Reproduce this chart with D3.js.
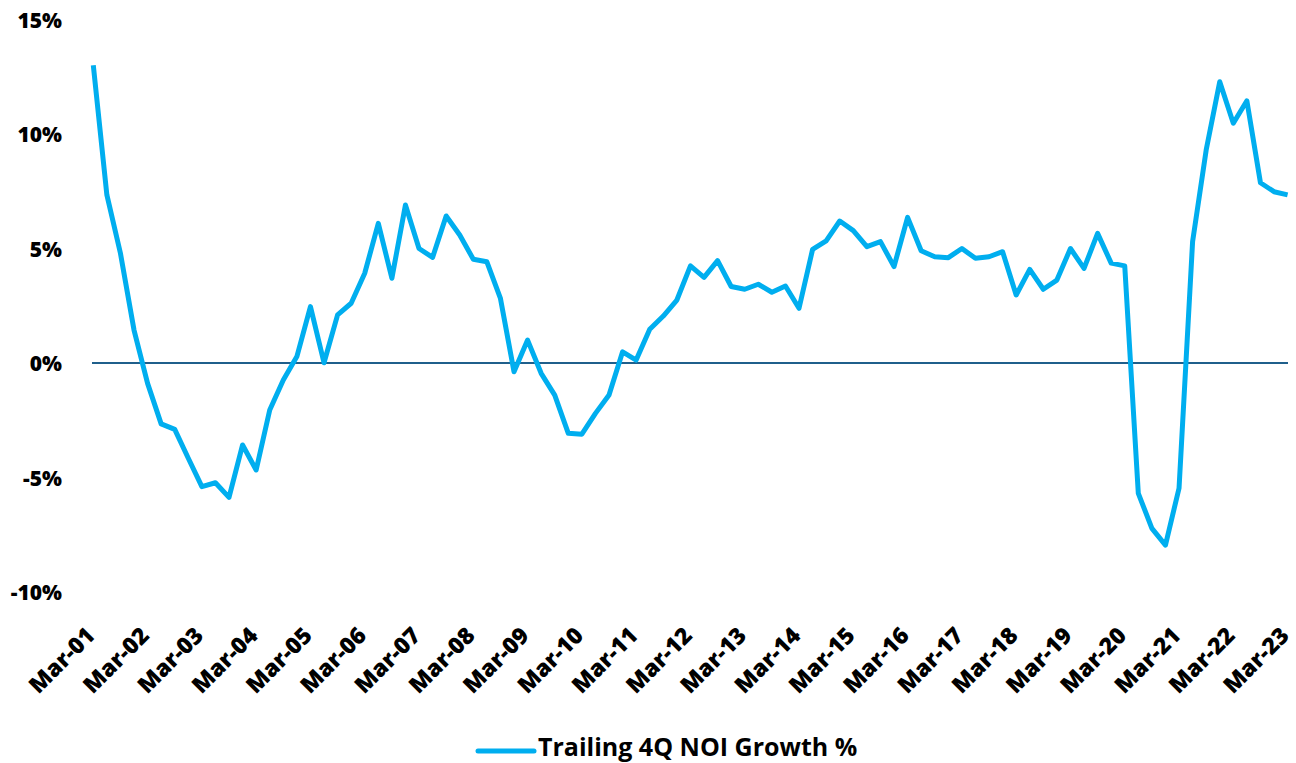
<!DOCTYPE html>
<html>
<head>
<meta charset="utf-8">
<script src="https://cdn.jsdelivr.net/npm/d3@7"></script>
<style>
  html, body { margin: 0; padding: 0; background: #ffffff; }
  svg { display: block; }
  text { font-family: "Open Sans", "Noto Sans", sans-serif; font-weight: 800; fill: #000; }
</style>
</head>
<body>
<svg id="chart" width="1296" height="763"></svg>
<script>
// ---- Data ----
const seriesName = "Trailing 4Q NOI Growth %";
const quarterMonths = ["Mar", "Jun", "Sep", "Dec"];
const startYear = 2001, endYear = 2023;
// Quarterly categories Mar-01 .. Mar-23
const categories = [];
for (let y = startYear; y <= endYear; y++) {
  for (const m of quarterMonths) {
    if (y === endYear && m !== "Mar") break;
    categories.push(m + "-" + String(y % 100).padStart(2, "0"));
  }
}
const noiGrowth = [
  13.0, 7.34, 4.79, 1.44, -0.89, -2.66, -2.90, -4.16, -5.40, -5.23, -5.87, -3.58, -4.67,
  -2.05, -0.74, 0.28, 2.46, 0.01, 2.10, 2.61, 3.92, 6.10, 3.70, 6.90, 5.00, 4.61,
  6.42, 5.59, 4.53, 4.42, 2.82, -0.38, 1.00, -0.45, -1.40, -3.07, -3.11, -2.20, -1.40,
  0.49, 0.13, 1.47, 2.05, 2.75, 4.24, 3.74, 4.47, 3.34, 3.22, 3.44, 3.09, 3.36,
  2.39, 4.96, 5.33, 6.20, 5.78, 5.08, 5.30, 4.21, 6.36, 4.90, 4.64, 4.60, 5.00,
  4.57, 4.64, 4.86, 2.97, 4.09, 3.22, 3.62, 5.00, 4.13, 5.66, 4.36, 4.24, -5.69,
  -7.22, -7.95, -5.47, 5.30, 9.30, 12.28, 10.47, 11.45, 7.87, 7.48, 7.34
];
const tickLabels = ["Mar-01","Mar-02","Mar-03","Mar-04","Mar-05","Mar-06","Mar-07","Mar-08",
  "Mar-09","Mar-10","Mar-11","Mar-12","Mar-13","Mar-14","Mar-15","Mar-16","Mar-17","Mar-18",
  "Mar-19","Mar-20","Mar-21","Mar-22","Mar-23"];
const yTicks = [15, 10, 5, 0, -5, -10];

// ---- Layout ----
const svg = d3.select("#chart");
const lineColor = "#00AEEF";
const zeroColor = "#1F5F8B";

const x = d3.scalePoint().domain(categories).range([93.3, 1287.6]);
const y = d3.scaleLinear().domain([-10, 15]).range([592, 19.5]);

// Y axis labels
const yAxis = d3.axisLeft(y).tickValues(yTicks).tickFormat(d => d + "%").tickSize(0).tickPadding(0);
const yG = svg.append("g").attr("transform", "translate(62,0)").call(yAxis);
yG.select(".domain").remove();
yG.selectAll("text")
  .attr("font-family", null).attr("font-size", null)
  .style("font-size", "21px").attr("dy", "0.36em");

// Zero line
svg.append("line")
  .attr("x1", 92).attr("x2", 1288)
  .attr("y1", y(0)).attr("y2", y(0))
  .attr("stroke", zeroColor).attr("stroke-width", 2);

// X axis labels (rotated -45deg, end-anchored near each tick)
const xG = svg.append("g").attr("class", "x-labels");
xG.selectAll("text")
  .data(tickLabels)
  .join("text")
  .attr("text-anchor", "end")
  .style("font-size", "23px")
  .attr("transform", d => `translate(${x(d) + 3},637) rotate(-45)`)
  .text(d => d);

// Series line
const line = d3.line()
  .x((d, i) => x(categories[i]))
  .y(d => y(d));
svg.append("path")
  .datum(noiGrowth)
  .attr("d", line)
  .attr("fill", "none")
  .attr("stroke", lineColor)
  .attr("stroke-width", 5)
  .attr("stroke-linejoin", "round")
  .attr("stroke-linecap", "butt");

// Legend
const lg = svg.append("g").attr("transform", "translate(478,751)");
lg.append("line").attr("x1", 0).attr("x2", 56).attr("y1", 0).attr("y2", 0)
  .attr("stroke", lineColor).attr("stroke-width", 5).attr("stroke-linecap", "round");
lg.append("text").attr("x", 60).attr("y", 5).style("font-size", "25px").style("font-weight", 700).text(seriesName);
</script>
</body>
</html>
